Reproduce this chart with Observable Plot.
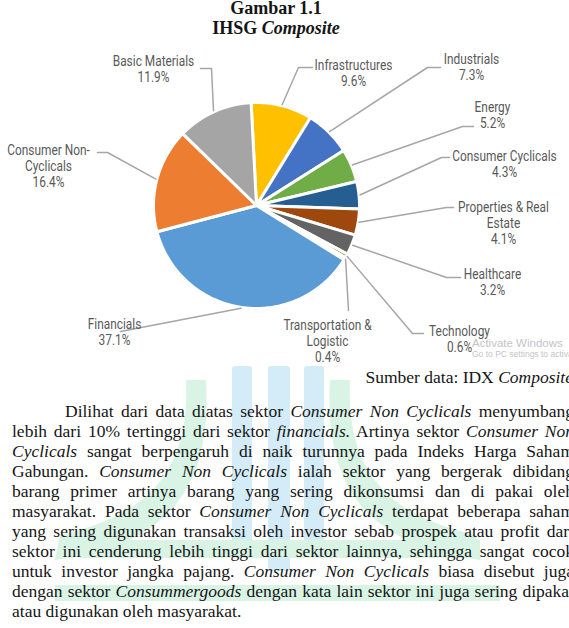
<!DOCTYPE html>
<html><head><meta charset="utf-8">
<script src="https://cdn.jsdelivr.net/npm/d3@7"></script>
<script src="https://cdn.jsdelivr.net/npm/@observablehq/plot@0.6"></script>
<style>
html,body{margin:0;padding:0;background:#fff;}
body{width:569px;height:628px;position:relative;overflow:hidden;font-family:"Liberation Serif","Times New Roman",serif;color:#151515;}
#wm{position:absolute;left:0;top:0;z-index:0;}
#title{position:absolute;left:0;width:552px;top:-2px;text-align:center;font-weight:bold;font-size:18px;line-height:20px;z-index:2;}
#chart{position:absolute;left:0;top:40px;z-index:2;}
#source{position:absolute;right:-4px;top:367px;font-size:17.5px;line-height:20px;z-index:2;white-space:nowrap;}
#text{position:absolute;left:12px;width:562px;top:401px;font-size:17.5px;line-height:20px;z-index:2;}
#text div{text-align:justify;text-align-last:justify;}
#text div.last{text-align-last:left;}
#win{position:absolute;left:472px;top:337px;color:#c4c4c4;font-family:"Liberation Sans",sans-serif;z-index:3;white-space:nowrap;}
#win .a{font-size:11.5px;line-height:12px;}
#win .b{font-size:8.5px;line-height:11px;}
</style></head>
<body>
<svg id="wm" width="569" height="628">
  <g fill="#d4ecf8">
    <rect x="232" y="366" width="20" height="190" rx="3"/>
    <rect x="268" y="366" width="22" height="205" rx="3"/>
    <rect x="304" y="366" width="20" height="190" rx="3"/>
  </g>
  <g fill="#d9f4e5">
    <path d="M186,380 C190,470 150,515 60,535 L55,560 C175,545 212,480 206,380 Z"/>
    <path d="M350,380 C346,470 386,515 476,535 L481,560 C361,545 324,480 330,380 Z"/>
    <path d="M80,540 L480,540 L480,558 L80,558 Z"/>
    <path d="M55,585 L500,585 L500,601 L55,601 Z"/>
  </g>
</svg>
<div id="title">Gambar 1.1<br>IHSG <i>Composite</i></div>
<div id="chart"></div>
<div id="win"><div class="a">Activate Windows</div><div class="b">Go to PC settings to activate Windows.</div></div>
<div id="source">Sumber data: IDX <i>Composite</i></div>
<div id="text">
<div style="text-indent:53px">Dilihat dari data diatas sektor <i>Consumer Non Cyclicals</i> menyumbang</div>
<div>lebih dari 10% tertinggi dari sektor <i>financials.</i> Artinya sektor <i>Consumer Non</i></div>
<div><i>Cyclicals</i> sangat berpengaruh di naik turunnya pada Indeks Harga Saham</div>
<div>Gabungan. <i>Consumer Non Cyclicals</i> ialah sektor yang bergerak dibidang</div>
<div>barang primer artinya barang yang sering dikonsumsi dan di pakai oleh</div>
<div>masyarakat. Pada sektor <i>Consumer Non Cyclicals</i> terdapat beberapa saham</div>
<div>yang sering digunakan transaksi oleh investor sebab prospek atau profit dari</div>
<div>sektor ini cenderung lebih tinggi dari sektor lainnya, sehingga sangat cocok</div>
<div>untuk investor jangka pajang. <i>Consumer Non Cyclicals</i> biasa disebut juga</div>
<div>dengan sektor <i>Consummergoods</i> dengan kata lain sektor ini juga sering dipakai</div>
<div class="last">atau digunakan oleh masyarakat.</div>
</div>
<script>
// ---- data ----
const sectors = ["Infrastructures","Industrials","Energy","Consumer Cyclicals","Properties & Real Estate","Healthcare","Technology","Transportation & Logistic","Financials","Consumer Non-Cyclicals","Basic Materials"];
const shares = [9.6, 7.3, 5.2, 4.3, 4.1, 3.2, 0.6, 0.4, 37.1, 16.4, 11.9];
const labelLines = [["Infrastructures"],["Industrials"],["Energy"],["Consumer Cyclicals"],["Properties & Real","Estate"],["Healthcare"],["Technology"],["Transportation &","Logistic"],["Financials"],["Consumer Non-","Cyclicals"],["Basic Materials"]];
const sliceColors = ["#FFC000","#4472C4","#70AD47","#255E91","#9E480E","#636363","#997300","#264478","#5B9BD5","#ED7D31","#A5A5A5"];

// ---- layout (page px) ----
const pieCenter = [256, 205];
const pieRadius = 103;
const startDeg = -3;
const labelAt = [[353,68],[471,62],[492,110],[504,159],[503,210],[492,277],[459,334],[327,328],[114,327],[48,153],[153,64]];
const leaderFrom = [[[312,67],[298,67]],[[440,67],[427,67]],[[473,126],[462,126]],[[449,157],[441,157]],[[453,207],[446,207]],[[460,277],[446,277]],[[423,333],[412,333]],[[348,310],[348,310]],[[120,331],[120,331]],[[97,152],[107,152]],[[200,68],[211,68]]];

const fs = 14.5, lh = 16, squeeze = 0.82;
const labelFont = "Roboto,'Liberation Sans',sans-serif";

const [cx, cy] = pieCenter;
const arcs = d3.pie().sort(null).startAngle(startDeg*Math.PI/180).endAngle(startDeg*Math.PI/180 + 2*Math.PI)(shares);

const slicePts = [];
arcs.forEach((a, i) => {
  slicePts.push({name: sectors[i], color: sliceColors[i], x: 0, y: 0});
  const n = Math.max(2, Math.ceil((a.endAngle - a.startAngle) / (Math.PI/180)));
  for (let k = 0; k <= n; k++) {
    const t = a.startAngle + (a.endAngle - a.startAngle) * k / n;
    slicePts.push({name: sectors[i], color: sliceColors[i], x: pieRadius*Math.sin(t), y: -pieRadius*Math.cos(t)});
  }
  slicePts.push({name: sectors[i], color: sliceColors[i], x: 0, y: 0});
});

const leaderPts = [];
arcs.forEach((a, i) => {
  const m = (a.startAngle + a.endAngle)/2;
  const r = pieRadius + 1;
  leaderFrom[i].forEach(p => leaderPts.push({name: sectors[i], x: p[0]-cx, y: p[1]-cy}));
  leaderPts.push({name: sectors[i], x: r*Math.sin(m), y: -r*Math.cos(m)});
});

const labels = sectors.map((s, i) => ({
  text: labelLines[i].concat([shares[i].toFixed(1) + "%"]).join("\n"),
  x: labelAt[i][0]-cx, y: labelAt[i][1]-cy
}));

const W = 569, H = 330, top0 = 40;
const chart = Plot.plot({
  width: W, height: H, margin: 0,
  x: {domain: [-cx, W-cx], range: [0, W], axis: null},
  y: {domain: [top0-cy, top0+H-cy], range: [0, H], axis: null},
  style: {background: "transparent", overflow: "visible"},
  marks: [
    Plot.line(slicePts, {x: "x", y: "y", z: "name", fill: "color", stroke: "white", strokeWidth: 3, strokeLinejoin: "round", curve: "linear"}),
    Plot.line(leaderPts, {x: "x", y: "y", z: "name", stroke: "#a6a6a6", strokeWidth: 1.5, curve: "linear"}),
    Plot.text(labels, {x: "x", y: "y", text: "text", textAnchor: "middle", lineAnchor: "top", dy: -0.71*fs, lineHeight: lh/fs, fontSize: fs, fill: "#595959", fontFamily: labelFont, className: "pielabel"})
  ]
});
// condensed look for the data labels (narrow face not installed)
chart.querySelectorAll(".pielabel text").forEach(t => {
  const tr = t.getAttribute("transform") || "";
  t.setAttribute("transform", tr + ` scale(${squeeze},1)`);
});
document.getElementById("chart").appendChild(chart);
</script>
</body></html>
